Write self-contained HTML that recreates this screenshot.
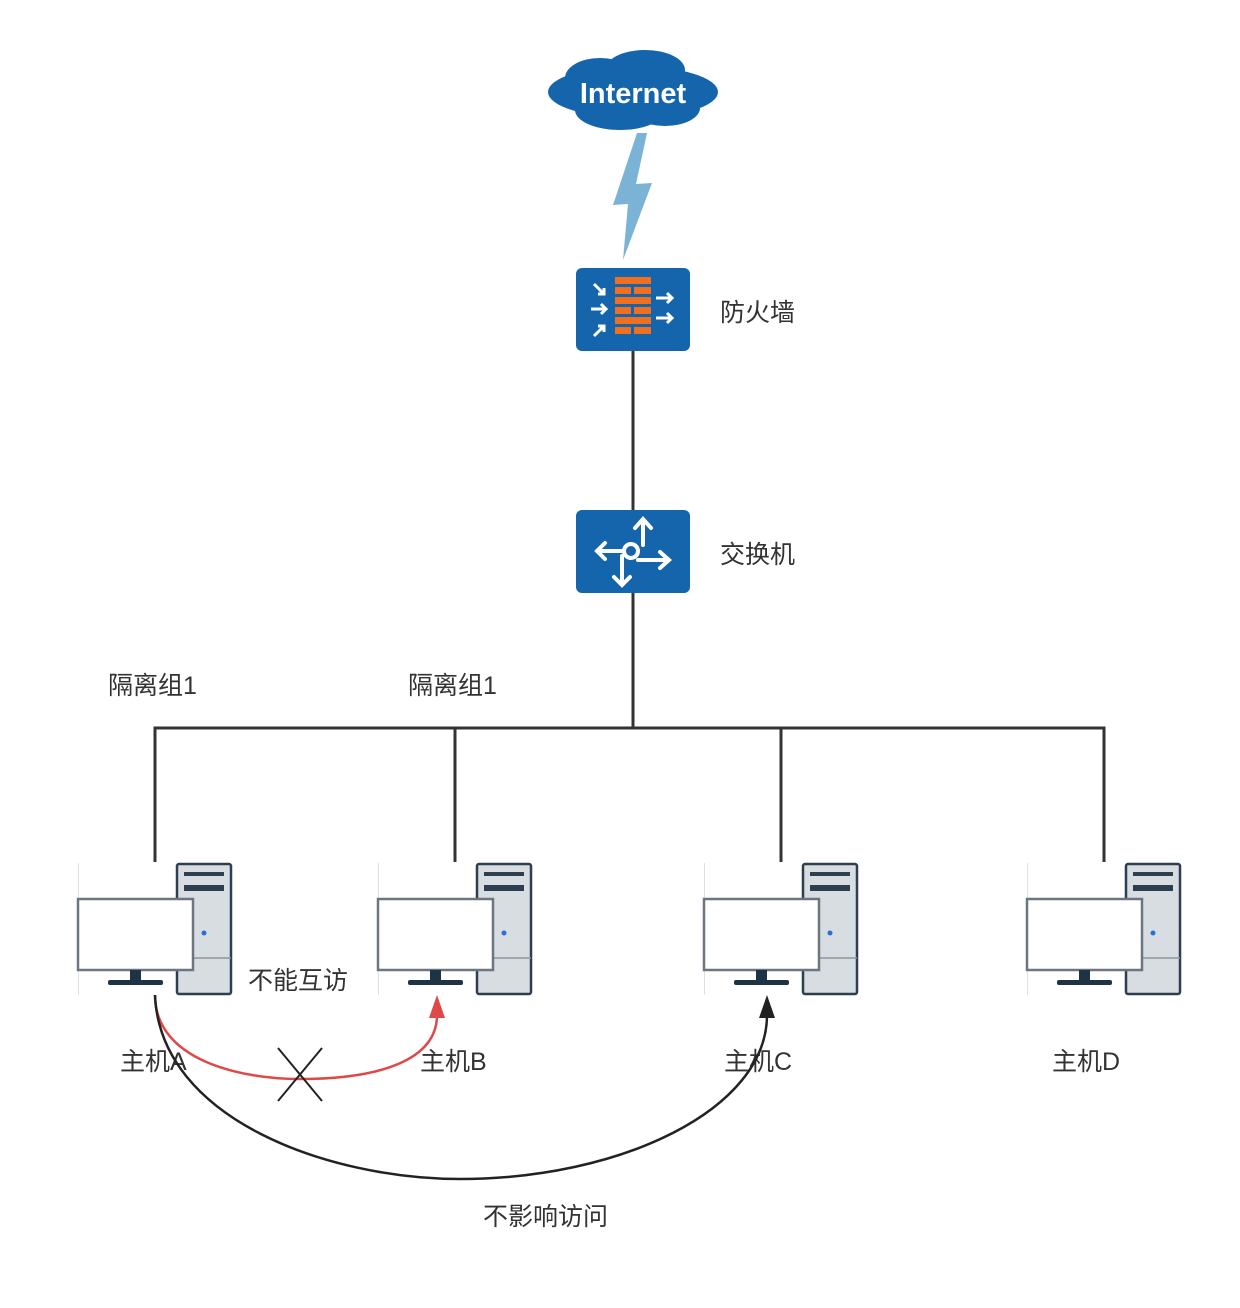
<!DOCTYPE html>
<html><head><meta charset="utf-8"><style>
body{margin:0;background:#fff;}
svg text{font-family:"Liberation Sans","Noto Sans CJK SC",sans-serif;fill:#333;font-size:25px;}
</style></head><body>
<svg width="1240" height="1303" viewBox="0 0 1240 1303" xmlns="http://www.w3.org/2000/svg">
<defs>
<g id="pc">
<line x1="0.5" y1="863" x2="0.5" y2="995" stroke="#e0e0e0"/>
<rect x="99" y="864" width="54" height="130" rx="2" fill="#d8dde2" stroke="#2c3e50" stroke-width="2.5"/>
<rect x="106" y="872" width="40" height="4" fill="#2c3e50"/>
<rect x="106" y="885" width="40" height="6" fill="#2c3e50"/>
<line x1="99" y1="958" x2="153" y2="958" stroke="#8a949e" stroke-width="1.5"/>
<circle cx="126" cy="933" r="2.5" fill="#2a6fdb"/>
<rect x="0" y="899" width="115" height="71" fill="#fff" stroke="#6b7680" stroke-width="2.5"/>
<rect x="52" y="970" width="11" height="11" fill="#1e3344"/>
<rect x="30" y="980" width="55" height="5" rx="2" fill="#1e3344"/>
</g>
</defs>
<!-- cloud -->
<g fill="#1565ad">
<ellipse cx="633" cy="92" rx="85" ry="26"/>
<ellipse cx="600" cy="78" rx="35" ry="20"/>
<ellipse cx="645" cy="70" rx="40" ry="20"/>
<ellipse cx="620" cy="110" rx="45" ry="20"/>
<ellipse cx="665" cy="108" rx="35" ry="18"/>
</g>
<text x="633" y="103" text-anchor="middle" style="fill:#fff;font-weight:bold;font-size:29px">Internet</text>
<!-- lightning -->
<polygon points="637,133 647,133 636,184 652,183 623,260 628,204 613,205" fill="#7ab3d6"/>
<!-- firewall -->
<rect x="576" y="268" width="114" height="83" rx="6" fill="#1565ad"/>
<g fill="#f07020">
<rect x="615" y="277" width="36" height="7"/>
<rect x="615" y="287" width="16" height="7"/><rect x="634" y="287" width="17" height="7"/>
<rect x="615" y="297" width="36" height="7"/>
<rect x="615" y="307" width="16" height="7"/><rect x="634" y="307" width="17" height="7"/>
<rect x="615" y="317" width="36" height="7"/>
<rect x="615" y="327" width="16" height="7"/><rect x="634" y="327" width="17" height="7"/>
</g>
<g stroke="#fff" stroke-width="3" fill="none">
<path d="M594 284 L604 294 M604 288 V294 H598"/>
<path d="M591 309 H606 M601 304 L606 309 L601 314"/>
<path d="M594 336 L604 326 M598 326 H604 V332"/>
<path d="M656 298 H672 M667 293 L672 298 L667 303"/>
<path d="M656 318 H672 M667 313 L672 318 L667 323"/>
</g>
<text x="720" y="321">防火墙</text>
<!-- switch -->
<rect x="576" y="510" width="114" height="83" rx="6" fill="#1565ad"/>
<g stroke="#fff" stroke-width="4" fill="none" stroke-linecap="round">
<circle cx="631" cy="551" r="7"/>
<path d="M643 545 V520 M635 528 L643 519 L651 528"/>
<path d="M624 551 H597 M605 543 L597 551 L605 559"/>
<path d="M638 560 H668 M660 552 L669 560 L660 568"/>
<path d="M622 556 V585 M614 577 L622 585 L630 577"/>
</g>
<text x="720" y="563">交换机</text>
<!-- lines -->
<g stroke="#333" stroke-width="3" fill="none">
<line x1="633" y1="351" x2="633" y2="510"/>
<line x1="633" y1="593" x2="633" y2="728"/>
<polyline points="155,862 155,728 1104,728 1104,862"/>
<line x1="455" y1="728" x2="455" y2="862"/>
<line x1="781" y1="728" x2="781" y2="862"/>
</g>
<use href="#pc" x="78"/>
<use href="#pc" x="378"/>
<use href="#pc" x="704"/>
<use href="#pc" x="1027"/>
<text x="108" y="694">隔离组1</text>
<text x="408" y="694">隔离组1</text>
<text x="248" y="989">不能互访</text>
<text x="120" y="1070">主机A</text>
<text x="420" y="1070">主机B</text>
<text x="724" y="1070">主机C</text>
<text x="1052" y="1070">主机D</text>
<text x="483" y="1225">不影响访问</text>
<!-- curves -->
<path d="M155 995 C155 1060 240 1079 300 1079 C380 1079 437 1060 437 1015" stroke="#e04848" stroke-width="2.5" fill="none"/>
<polygon points="437,995 429,1018 445,1018" fill="#e04848"/>
<path d="M155 995 C160 1120 330 1179 460 1179 C620 1179 767 1110 767 1015" stroke="#222" stroke-width="2.5" fill="none"/>
<polygon points="767,995 759,1018 775,1018" fill="#222"/>
<g stroke="#222" stroke-width="2"><line x1="278" y1="1048" x2="322" y2="1101"/><line x1="322" y1="1048" x2="278" y2="1101"/></g>
</svg>
</body></html>
